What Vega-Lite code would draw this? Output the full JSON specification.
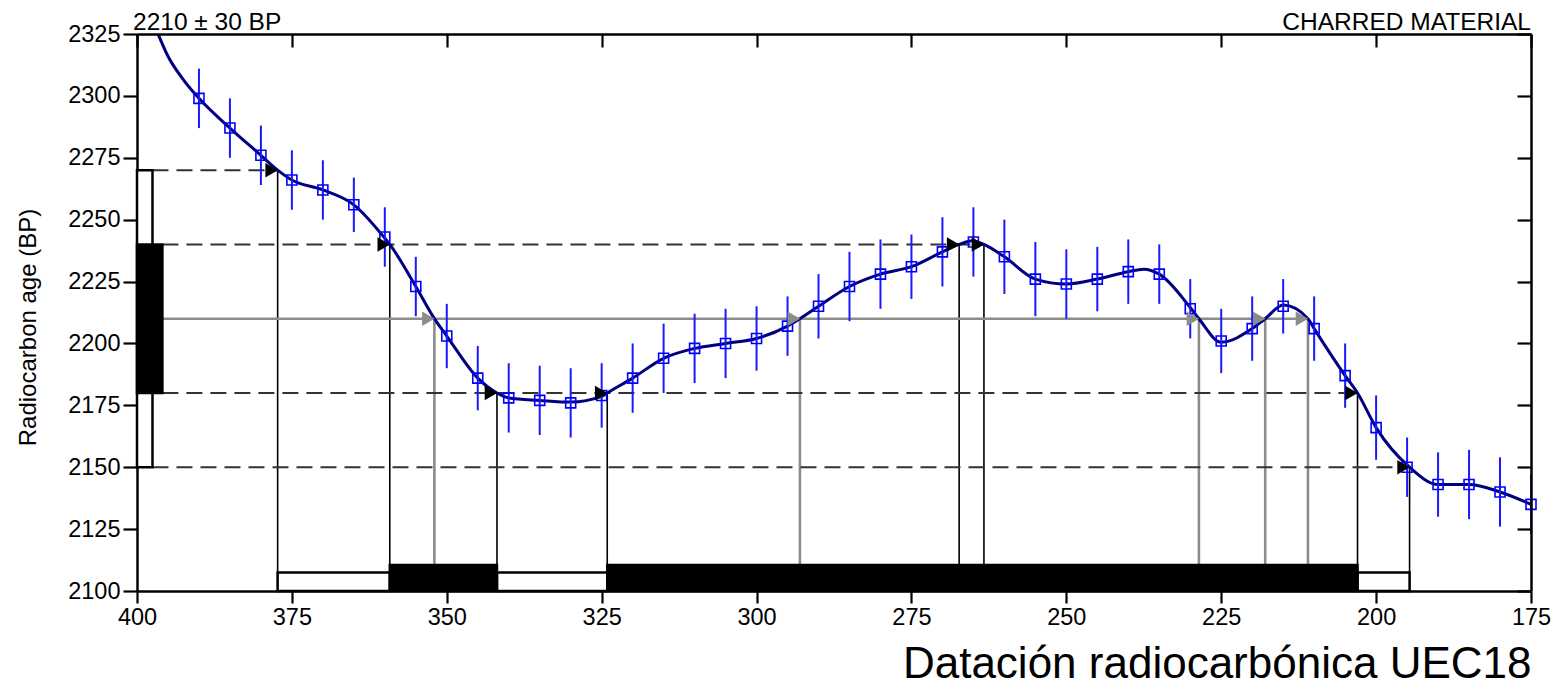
{
  "$schema": "https://vega.github.io/schema/vega-lite/v6.json",
  "width": 1394,
  "height": 557,
  "autosize": {"type": "none"},
  "padding": {"left": 137, "top": 34, "right": 28, "bottom": 108},
  "background": "white",
  "config": {
    "view": {"stroke": null},
    "font": "Liberation Sans",
    "axis": {"grid": false, "domainColor": "black", "domainWidth": 2.5, "tickColor": "black", "tickWidth": 2.2, "labelColor": "black", "labelFont": "Liberation Sans", "titleFont": "Liberation Sans", "titleColor": "black", "titleFontWeight": "normal"}
  },
  "datasets": {
    "cal": [
      {"year": 397, "bp": 2327.5}, {"year": 395, "bp": 2316}, {"year": 392.5, "bp": 2306.5}, {"year": 390, "bp": 2299},
      {"year": 385, "bp": 2287}, {"year": 380, "bp": 2276}, {"year": 377.3, "bp": 2270}, {"year": 375, "bp": 2266},
      {"year": 370, "bp": 2262}, {"year": 365, "bp": 2256}, {"year": 360, "bp": 2242.5}, {"year": 359.2, "bp": 2240},
      {"year": 355, "bp": 2223}, {"year": 352, "bp": 2210}, {"year": 350, "bp": 2203}, {"year": 345, "bp": 2186},
      {"year": 341.9, "bp": 2180}, {"year": 340, "bp": 2178}, {"year": 335, "bp": 2177}, {"year": 330, "bp": 2176.3},
      {"year": 325, "bp": 2178.6}, {"year": 324.1, "bp": 2180}, {"year": 320, "bp": 2186}, {"year": 315, "bp": 2194},
      {"year": 310, "bp": 2198}, {"year": 305, "bp": 2200}, {"year": 300, "bp": 2202}, {"year": 295, "bp": 2207},
      {"year": 293, "bp": 2210}, {"year": 290, "bp": 2215}, {"year": 285, "bp": 2223}, {"year": 280, "bp": 2228},
      {"year": 275, "bp": 2231}, {"year": 270, "bp": 2237}, {"year": 267.3, "bp": 2240}, {"year": 265.2, "bp": 2241.5},
      {"year": 263.3, "bp": 2240}, {"year": 260, "bp": 2235}, {"year": 255, "bp": 2226}, {"year": 250, "bp": 2224},
      {"year": 245, "bp": 2226}, {"year": 240, "bp": 2229}, {"year": 237.5, "bp": 2230}, {"year": 235, "bp": 2228},
      {"year": 230, "bp": 2214.5}, {"year": 228.6, "bp": 2210}, {"year": 225, "bp": 2200.5}, {"year": 220, "bp": 2206},
      {"year": 217.9, "bp": 2210}, {"year": 215, "bp": 2215.5}, {"year": 211, "bp": 2210}, {"year": 210, "bp": 2206},
      {"year": 205, "bp": 2187}, {"year": 203, "bp": 2180}, {"year": 200, "bp": 2166}, {"year": 194.6, "bp": 2150},
      {"year": 190, "bp": 2143}, {"year": 185, "bp": 2143}, {"year": 180, "bp": 2140}, {"year": 175, "bp": 2135}
    ],
    "obs": [
      {"year": 390, "bp": 2299, "err": 12}, {"year": 385, "bp": 2287, "err": 12}, {"year": 380, "bp": 2276, "err": 12},
      {"year": 375, "bp": 2266, "err": 12}, {"year": 370, "bp": 2262, "err": 12}, {"year": 365, "bp": 2256, "err": 11},
      {"year": 360, "bp": 2243, "err": 12}, {"year": 355, "bp": 2223, "err": 12}, {"year": 350, "bp": 2203, "err": 13},
      {"year": 345, "bp": 2186, "err": 13}, {"year": 340, "bp": 2178, "err": 14}, {"year": 335, "bp": 2177, "err": 14},
      {"year": 330, "bp": 2176, "err": 14}, {"year": 325, "bp": 2179, "err": 13}, {"year": 320, "bp": 2186, "err": 14},
      {"year": 315, "bp": 2194, "err": 14}, {"year": 310, "bp": 2198, "err": 14}, {"year": 305, "bp": 2200, "err": 14},
      {"year": 300, "bp": 2202, "err": 13}, {"year": 295, "bp": 2207, "err": 12}, {"year": 290, "bp": 2215, "err": 13},
      {"year": 285, "bp": 2223, "err": 14}, {"year": 280, "bp": 2228, "err": 14}, {"year": 275, "bp": 2231, "err": 13},
      {"year": 270, "bp": 2237, "err": 14}, {"year": 265, "bp": 2241, "err": 14}, {"year": 260, "bp": 2235, "err": 15},
      {"year": 255, "bp": 2226, "err": 15}, {"year": 250, "bp": 2224, "err": 14}, {"year": 245, "bp": 2226, "err": 13},
      {"year": 240, "bp": 2229, "err": 13}, {"year": 235, "bp": 2228, "err": 12}, {"year": 230, "bp": 2214, "err": 12},
      {"year": 225, "bp": 2201, "err": 13}, {"year": 220, "bp": 2206, "err": 13}, {"year": 215, "bp": 2215, "err": 11},
      {"year": 210, "bp": 2206, "err": 13}, {"year": 205, "bp": 2187, "err": 13}, {"year": 200, "bp": 2166, "err": 13},
      {"year": 195, "bp": 2150, "err": 12}, {"year": 190, "bp": 2143, "err": 13}, {"year": 185, "bp": 2143, "err": 14},
      {"year": 180, "bp": 2140, "err": 14}, {"year": 175, "bp": 2135, "err": 12}
    ],
    "vlines": [
      {"year": 377.3, "top": 2270, "kind": "k"}, {"year": 359.2, "top": 2240, "kind": "k"},
      {"year": 341.9, "top": 2180, "kind": "k"}, {"year": 324.1, "top": 2180, "kind": "k"},
      {"year": 267.3, "top": 2240, "kind": "k"}, {"year": 263.3, "top": 2240, "kind": "k"},
      {"year": 203, "top": 2180, "kind": "k"}, {"year": 194.6, "top": 2150, "kind": "k"},
      {"year": 352, "top": 2210, "kind": "g"}, {"year": 293, "top": 2210, "kind": "g"},
      {"year": 228.6, "top": 2210, "kind": "g"}, {"year": 217.9, "top": 2210, "kind": "g"},
      {"year": 211, "top": 2210, "kind": "g"}
    ],
    "hdash": [
      {"x0": 397.5, "x1": 377.3, "bp": 2270}, {"x0": 395.9, "x1": 263.3, "bp": 2240},
      {"x0": 395.9, "x1": 203, "bp": 2180}, {"x0": 397.5, "x1": 194.6, "bp": 2150}
    ],
    "hgray": [{"x0": 395.9, "x1": 211, "bp": 2210}],
    "boxes": [
      {"x0": 377.3, "x1": 359.2, "y0": 2100, "y1": 2107.5, "s": "2s"},
      {"x0": 341.9, "x1": 324.1, "y0": 2100, "y1": 2107.5, "s": "2s"},
      {"x0": 203, "x1": 194.6, "y0": 2100, "y1": 2107.5, "s": "2s"},
      {"x0": 400, "x1": 397.5, "y0": 2150, "y1": 2270, "s": "2s"},
      {"x0": 359.2, "x1": 341.9, "y0": 2100, "y1": 2110.5, "s": "1s"},
      {"x0": 324.1, "x1": 203, "y0": 2100, "y1": 2110.5, "s": "1s"},
      {"x0": 400, "x1": 395.9, "y0": 2180, "y1": 2240, "s": "1s"}
    ],
    "notes": [
      {"label": "2210 ± 30 BP", "year": 400, "bp": 2325, "side": "left"},
      {"label": "CHARRED MATERIAL", "year": 175, "bp": 2325, "side": "right"}
    ]
  },
  "resolve": {"axis": {"x": "independent", "y": "independent"}},
  "layer": [
    {
      "data": {"name": "vlines"},
      "transform": [{"filter": "datum.kind === 'k'"}],
      "mark": {"type": "rule", "color": "black", "strokeWidth": 1.6},
      "encoding": {
        "x": {"field": "year", "type": "quantitative", "scale": {"domain": [175, 400], "reverse": true, "nice": false, "zero": false}, "axis": null},
        "y": {"field": "top", "type": "quantitative", "scale": {"domain": [2100, 2325], "nice": false, "zero": false}, "axis": null},
        "y2": {"datum": 2100}
      }
    },
    {
      "data": {"name": "vlines"},
      "transform": [{"filter": "datum.kind === 'g'"}],
      "mark": {"type": "rule", "color": "#8c8c8c", "strokeWidth": 2.6},
      "encoding": {
        "x": {"field": "year", "type": "quantitative", "scale": {"domain": [175, 400], "reverse": true, "nice": false, "zero": false}, "axis": null},
        "y": {"field": "top", "type": "quantitative", "scale": {"domain": [2100, 2325], "nice": false, "zero": false}, "axis": null},
        "y2": {"datum": 2100}
      }
    },
    {
      "data": {"name": "hdash"},
      "mark": {"type": "rule", "color": "#333333", "strokeWidth": 2, "strokeDash": [16, 8]},
      "encoding": {
        "x": {"field": "x0", "type": "quantitative", "scale": {"domain": [175, 400], "reverse": true, "nice": false, "zero": false}, "axis": null},
        "x2": {"field": "x1"},
        "y": {"field": "bp", "type": "quantitative", "scale": {"domain": [2100, 2325], "nice": false, "zero": false}, "axis": null}
      }
    },
    {
      "data": {"name": "hgray"},
      "mark": {"type": "rule", "color": "#8c8c8c", "strokeWidth": 2.6},
      "encoding": {
        "x": {"field": "x0", "type": "quantitative", "scale": {"domain": [175, 400], "reverse": true, "nice": false, "zero": false}, "axis": null},
        "x2": {"field": "x1"},
        "y": {"field": "bp", "type": "quantitative", "scale": {"domain": [2100, 2325], "nice": false, "zero": false}, "axis": null}
      }
    },
    {
      "data": {"name": "boxes"},
      "mark": {"type": "rect", "stroke": "black", "strokeWidth": 2.5},
      "encoding": {
        "x": {"field": "x0", "type": "quantitative", "scale": {"domain": [175, 400], "reverse": true, "nice": false, "zero": false}, "axis": null},
        "x2": {"field": "x1"},
        "y": {"field": "y0", "type": "quantitative", "scale": {"domain": [2100, 2325], "nice": false, "zero": false}, "axis": null},
        "y2": {"field": "y1"},
        "fill": {"field": "s", "type": "nominal", "scale": {"domain": ["1s", "2s"], "range": ["black", "white"]}, "legend": null}
      }
    },
    {
      "data": {"name": "cal"},
      "mark": {"type": "line", "color": "#000080", "strokeWidth": 3, "interpolate": "monotone", "clip": true},
      "encoding": {
        "x": {"field": "year", "type": "quantitative", "scale": {"domain": [175, 400], "reverse": true, "nice": false, "zero": false},
          "axis": {"orient": "bottom", "values": [400, 375, 350, 325, 300, 275, 250, 225, 200, 175], "format": "d", "tickSize": 12, "labelFontSize": 23.5, "labelPadding": 2, "labelFlush": false,
            "title": "Datación radiocarbónica UEC18", "titleFontSize": 44, "titleAnchor": "end", "titleAlign": "right", "titleBaseline": "alphabetic", "titleX": 1394, "titleY": 86}},
        "y": {"field": "bp", "type": "quantitative", "scale": {"domain": [2100, 2325], "nice": false, "zero": false},
          "axis": {"orient": "left", "values": [2100, 2125, 2150, 2175, 2200, 2225, 2250, 2275, 2300, 2325], "format": "d", "tickSize": 14, "labelFontSize": 23.5, "labelPadding": 3, "labelFlush": false,
            "title": "Radiocarbon age (BP)", "titleFontSize": 24, "titleAngle": -90, "titleBaseline": "alphabetic", "titleAlign": "center", "titleX": -102, "titleY": 293}}
      }
    },
    {
      "data": {"name": "obs"},
      "transform": [{"calculate": "datum.bp - datum.err", "as": "lo"}, {"calculate": "datum.bp + datum.err", "as": "hi"}],
      "mark": {"type": "rule", "color": "#1a1aff", "strokeWidth": 2},
      "encoding": {
        "x": {"field": "year", "type": "quantitative", "scale": {"domain": [175, 400], "reverse": true, "nice": false, "zero": false}, "axis": null},
        "y": {"field": "lo", "type": "quantitative", "scale": {"domain": [2100, 2325], "nice": false, "zero": false}, "axis": null},
        "y2": {"field": "hi"}
      }
    },
    {
      "data": {"name": "obs"},
      "mark": {"type": "point", "shape": "square", "filled": false, "color": "#0000ff", "strokeWidth": 1.6, "size": 100, "opacity": 1},
      "encoding": {
        "x": {"field": "year", "type": "quantitative", "scale": {"domain": [175, 400], "reverse": true, "nice": false, "zero": false},
          "axis": {"orient": "top", "values": [400, 375, 350, 325, 300, 275, 250, 225, 200, 175], "tickSize": -13, "labels": false, "title": null, "zindex": 1}},
        "y": {"field": "bp", "type": "quantitative", "scale": {"domain": [2100, 2325], "nice": false, "zero": false},
          "axis": {"orient": "right", "values": [2100, 2125, 2150, 2175, 2200, 2225, 2250, 2275, 2300, 2325], "tickSize": -14, "labels": false, "title": null, "zindex": 1}}
      }
    },
    {
      "data": {"name": "vlines"},
      "mark": {"type": "point", "shape": "triangle-right", "filled": true, "size": 210, "xOffset": -6, "opacity": 1},
      "encoding": {
        "x": {"field": "year", "type": "quantitative", "scale": {"domain": [175, 400], "reverse": true, "nice": false, "zero": false}, "axis": null},
        "y": {"field": "top", "type": "quantitative", "scale": {"domain": [2100, 2325], "nice": false, "zero": false}, "axis": null},
        "color": {"field": "kind", "type": "nominal", "scale": {"domain": ["k", "g"], "range": ["black", "#8c8c8c"]}, "legend": null}
      }
    },
    {
      "data": {"name": "notes"},
      "transform": [{"filter": "datum.side === 'left'"}],
      "mark": {"type": "text", "align": "left", "baseline": "alphabetic", "fontSize": 24.5, "font": "Liberation Sans", "color": "black", "dx": -4, "dy": -4},
      "encoding": {
        "text": {"field": "label"},
        "x": {"field": "year", "type": "quantitative", "scale": {"domain": [175, 400], "reverse": true, "nice": false, "zero": false}, "axis": null},
        "y": {"field": "bp", "type": "quantitative", "scale": {"domain": [2100, 2325], "nice": false, "zero": false}, "axis": null}
      }
    },
    {
      "data": {"name": "notes"},
      "transform": [{"filter": "datum.side === 'right'"}],
      "mark": {"type": "text", "align": "right", "baseline": "alphabetic", "fontSize": 24.5, "font": "Liberation Sans", "color": "black", "dx": 0, "dy": -4},
      "encoding": {
        "text": {"field": "label"},
        "x": {"field": "year", "type": "quantitative", "scale": {"domain": [175, 400], "reverse": true, "nice": false, "zero": false}, "axis": null},
        "y": {"field": "bp", "type": "quantitative", "scale": {"domain": [2100, 2325], "nice": false, "zero": false}, "axis": null}
      }
    }
  ]
}
